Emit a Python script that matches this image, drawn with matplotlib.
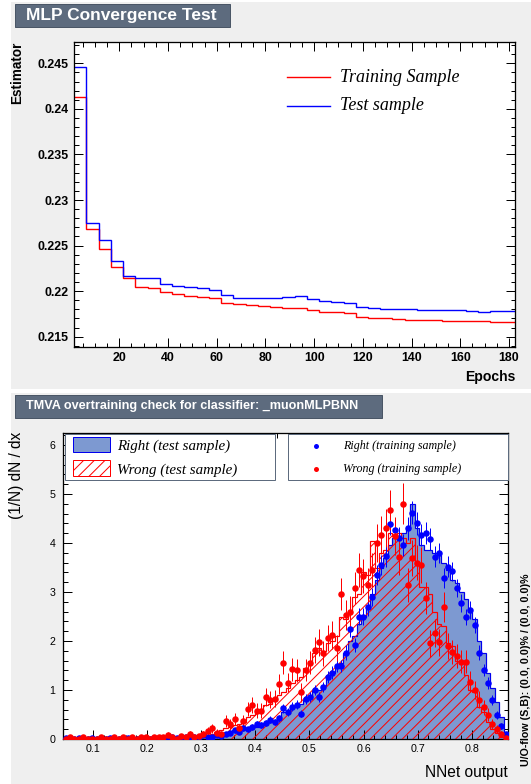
import numpy as np
import matplotlib
matplotlib.use('Agg')
import matplotlib.pyplot as plt
from matplotlib.patches import Rectangle
from matplotlib.lines import Line2D
from matplotlib.ticker import MultipleLocator, FuncFormatter

DPI = 64
W, H = 531, 784
def P(px):
    return px * 72.0 / DPI

# ---------------- data: convergence test ----------------
epoch_range = (1.4, 182.5)
train_estimator = [0.2413, 0.2268, 0.2246, 0.2227, 0.2214, 0.2205, 0.2203, 0.2199, 0.2197, 0.2195,
                   0.2194, 0.2192, 0.2187, 0.2186, 0.2185, 0.2184, 0.2183, 0.2182, 0.2181, 0.2179,
                   0.2177, 0.2177, 0.2176, 0.2172, 0.2171, 0.2170, 0.2169, 0.2168, 0.2168, 0.2168,
                   0.2167, 0.2167, 0.2167, 0.2167, 0.2166, 0.2166]
test_estimator = [0.2446, 0.2275, 0.2256, 0.2233, 0.2217, 0.2214, 0.2214, 0.2208, 0.2206, 0.2205,
                  0.2203, 0.2201, 0.2196, 0.2193, 0.2193, 0.2192, 0.2192, 0.2194, 0.2195, 0.2191,
                  0.2189, 0.2188, 0.2187, 0.2183, 0.2182, 0.2180, 0.2180, 0.2180, 0.2179, 0.2179,
                  0.2179, 0.2179, 0.2178, 0.2177, 0.2178, 0.2178]

# ---------------- data: overtraining check (100 bins) ----------------
nnet_range = (0.045, 0.867)
right_test = [0.00, 0.00, 0.03, 0.00, 0.00, 0.03, 0.00, 0.00, 0.03, 0.00,
              0.00, 0.03, 0.00, 0.03, 0.00, 0.00, 0.03, 0.00, 0.03, 0.03,
              0.00, 0.03, 0.03, 0.00, 0.03, 0.03, 0.05, 0.03, 0.05, 0.05,
              0.06, 0.08, 0.06, 0.08, 0.10, 0.08, 0.12, 0.14, 0.18, 0.16,
              0.20, 0.22, 0.26, 0.25, 0.30, 0.33, 0.38, 0.36, 0.45, 0.55,
              0.58, 0.65, 0.70, 0.72, 0.80, 0.86, 0.98, 1.00, 1.08, 1.22,
              1.35, 1.48, 1.55, 1.75, 2.00, 2.10, 2.35, 2.50, 2.70, 2.95,
              3.25, 3.50, 3.70, 3.95, 4.10, 4.10, 4.20, 4.30, 4.80, 4.30,
              3.95, 3.85, 3.85, 3.80, 3.75, 3.60, 3.45, 3.25, 3.18, 3.00,
              2.85, 2.60, 2.45, 2.00, 1.75, 1.35, 1.05, 0.75, 0.45, 0.15]
wrong_test = [0.00, 0.04, 0.00, 0.00, 0.00, 0.04, 0.00, 0.00, 0.00, 0.04,
              0.00, 0.00, 0.04, 0.00, 0.04, 0.00, 0.04, 0.04, 0.00, 0.04,
              0.04, 0.00, 0.04, 0.08, 0.04, 0.04, 0.08, 0.04, 0.08, 0.06,
              0.06, 0.08, 0.12, 0.10, 0.15, 0.18, 0.22, 0.25, 0.28, 0.30,
              0.35, 0.45, 0.50, 0.55, 0.60, 0.70, 0.72, 0.80, 0.90, 0.95,
              1.05, 1.15, 1.20, 1.27, 1.45, 1.60, 1.75, 1.85, 1.80, 1.95,
              2.00, 2.10, 2.50, 2.45, 2.60, 2.90, 2.95, 3.40, 3.35, 4.05,
              3.50, 3.80, 3.85, 4.20, 4.15, 4.20, 4.10, 4.00, 4.10, 3.55,
              3.10, 3.10, 2.95, 2.60, 2.35, 2.30, 1.95, 1.90, 1.60, 1.55,
              1.30, 1.00, 0.95, 0.65, 0.55, 0.35, 0.20, 0.12, 0.05, 0.02]
right_train = [0.03, 0.00, 0.00, 0.03, 0.00, 0.00, 0.03, 0.00, 0.00, 0.00,
               0.03, 0.00, 0.00, 0.00, 0.03, 0.00, 0.00, 0.03, 0.03, 0.00,
               0.03, 0.03, 0.00, 0.03, 0.05, 0.03, 0.03, 0.05, 0.03, 0.05,
               0.05, 0.08, 0.05, 0.05, 0.08, 0.07, 0.10, 0.12, 0.18, 0.14,
               0.22, 0.20, 0.25, 0.30, 0.28, 0.33, 0.39, 0.34, 0.42, 0.63,
               0.55, 0.66, 0.70, 0.52, 0.82, 0.86, 1.00, 0.86, 1.06, 1.27,
               1.35, 1.49, 1.49, 1.76, 2.24, 1.92, 2.50, 2.50, 2.69, 2.90,
               3.35, 3.55, 3.73, 4.39, 4.27, 4.10, 3.96, 4.30, 4.62, 4.40,
               4.16, 4.20, 4.08, 3.72, 3.80, 3.29, 3.52, 3.42, 3.08, 2.77,
               2.49, 2.63, 2.33, 1.76, 1.41, 1.14, 0.80, 0.49, 0.27, 0.11]
right_train_err = [0.03, 0.00, 0.00, 0.03, 0.00, 0.00, 0.03, 0.00, 0.00, 0.00,
                   0.03, 0.00, 0.00, 0.00, 0.03, 0.00, 0.00, 0.03, 0.03, 0.00,
                   0.03, 0.03, 0.00, 0.03, 0.03, 0.03, 0.03, 0.03, 0.03, 0.03,
                   0.03, 0.03, 0.03, 0.03, 0.03, 0.03, 0.04, 0.04, 0.05, 0.04,
                   0.05, 0.05, 0.06, 0.06, 0.06, 0.06, 0.07, 0.06, 0.07, 0.09,
                   0.08, 0.09, 0.09, 0.08, 0.10, 0.10, 0.11, 0.10, 0.11, 0.12,
                   0.13, 0.13, 0.13, 0.15, 0.16, 0.15, 0.17, 0.17, 0.18, 0.19,
                   0.20, 0.21, 0.21, 0.23, 0.23, 0.22, 0.22, 0.23, 0.24, 0.23,
                   0.22, 0.23, 0.22, 0.21, 0.21, 0.20, 0.21, 0.20, 0.19, 0.18,
                   0.17, 0.18, 0.17, 0.15, 0.13, 0.12, 0.10, 0.08, 0.06, 0.04]
wrong_train = [0.00, 0.04, 0.00, 0.00, 0.04, 0.00, 0.00, 0.00, 0.04, 0.00,
               0.00, 0.04, 0.00, 0.04, 0.00, 0.04, 0.00, 0.04, 0.04, 0.00,
               0.04, 0.04, 0.04, 0.08, 0.04, 0.00, 0.06, 0.04, 0.10, 0.04,
               0.06, 0.10, 0.17, 0.22, 0.13, 0.10, 0.37, 0.30, 0.41, 0.22,
               0.37, 0.61, 0.69, 0.58, 0.58, 0.86, 0.80, 0.82, 1.12, 1.56,
               1.15, 1.42, 1.40, 0.95, 1.41, 1.56, 1.82, 1.97, 1.75, 2.06,
               2.12, 1.86, 2.96, 2.53, 2.60, 3.08, 3.45, 3.33, 3.14, 3.45,
               4.00, 4.16, 4.30, 4.67, 4.14, 3.71, 4.80, 3.14, 3.70, 3.60,
               3.55, 2.88, 1.95, 2.16, 1.97, 2.69, 1.90, 1.78, 1.69, 1.58,
               1.58, 1.17, 1.00, 0.80, 0.65, 0.50, 0.30, 0.20, 0.10, 0.03]
wrong_train_err = [0.00, 0.04, 0.00, 0.00, 0.04, 0.00, 0.00, 0.00, 0.04, 0.00,
                   0.00, 0.04, 0.00, 0.04, 0.00, 0.04, 0.00, 0.04, 0.04, 0.00,
                   0.04, 0.04, 0.04, 0.06, 0.04, 0.00, 0.05, 0.04, 0.06, 0.04,
                   0.05, 0.06, 0.08, 0.09, 0.07, 0.06, 0.12, 0.11, 0.13, 0.09,
                   0.12, 0.15, 0.16, 0.15, 0.15, 0.18, 0.17, 0.17, 0.20, 0.24,
                   0.20, 0.23, 0.23, 0.19, 0.23, 0.24, 0.26, 0.27, 0.25, 0.27,
                   0.28, 0.26, 0.33, 0.30, 0.31, 0.33, 0.35, 0.35, 0.34, 0.35,
                   0.38, 0.39, 0.39, 0.41, 0.39, 0.37, 0.42, 0.34, 0.37, 0.36,
                   0.36, 0.32, 0.27, 0.28, 0.27, 0.31, 0.26, 0.25, 0.25, 0.24,
                   0.24, 0.21, 0.19, 0.17, 0.15, 0.13, 0.10, 0.08, 0.06, 0.03]

plt.rcParams['font.family'] = ['Liberation Sans', 'DejaVu Sans']
plt.rcParams['hatch.linewidth'] = P(1.0)

fig = plt.figure(figsize=(W / DPI, H / DPI), dpi=DPI, facecolor='white')

def fx(x):
    return x / W

def fy(y):
    return 1.0 - y / H

def add_rect(x0, y0, x1, y1, **kw):
    r = Rectangle((fx(x0), fy(y1)), (x1 - x0) / W, (y1 - y0) / H,
                  transform=fig.transFigure, **kw)
    fig.add_artist(r)
    return r

PAD = '#efefef'
TITLE = '#5d6b7e'
add_rect(11, 2, 531, 389, facecolor=PAD, edgecolor='none', zorder=-10)
add_rect(11, 393, 531, 784, facecolor=PAD, edgecolor='none', zorder=-10)

# title boxes
add_rect(15, 4, 230, 27, facecolor=TITLE, edgecolor='#4a5666', lw=P(1), zorder=5)
fig.text(fx(26), fy(15.5), 'MLP Convergence Test', color='white', fontsize=P(17.4),
         fontweight='bold', ha='left', va='center', zorder=6)
add_rect(15, 395, 382, 418, facecolor=TITLE, edgecolor='#4a5666', lw=P(1), zorder=5)
fig.text(fx(26), fy(406.5), 'TMVA overtraining check for classifier: _muonMLPBNN', color='white',
         fontsize=P(12.6), fontweight='bold', ha='left', va='center', zorder=6)

# ---------------- top panel ----------------
ax1 = fig.add_axes([fx(74), fy(347), 441 / W, 305 / H])
ax1.set_facecolor('white')
edges1 = np.linspace(epoch_range[0], epoch_range[1], len(train_estimator) + 1)
ax1.stairs(train_estimator, edges1, color='#ff0000', lw=P(1.4), baseline=None)
ax1.stairs(test_estimator, edges1, color='#0000ff', lw=P(1.4), baseline=None)
ax1.set_xlim(*epoch_range)
ax1.set_ylim(0.21387, 0.24734)
ax1.xaxis.set_major_locator(MultipleLocator(20))
ax1.xaxis.set_minor_locator(MultipleLocator(5))
ax1.yaxis.set_major_locator(MultipleLocator(0.005))
ax1.yaxis.set_minor_locator(MultipleLocator(0.001))
ax1.yaxis.set_major_formatter(FuncFormatter(lambda v, p: f'{round(v, 4):g}'))
ax1.xaxis.set_major_formatter(FuncFormatter(lambda v, p: f'{v:g}'))
ax1.tick_params(which='both', direction='in', top=True, right=True, width=P(1), color='black')
ax1.tick_params(which='major', length=P(9), labelsize=P(12.4), pad=P(5))
ax1.tick_params(which='minor', length=P(4.5))
for lbl in ax1.get_xticklabels() + ax1.get_yticklabels():
    lbl.set_fontweight('bold')
for s in ax1.spines.values():
    s.set_linewidth(P(1.3))
fig.text(fx(515), fy(377), 'Epochs', fontsize=P(14), fontweight='bold', ha='right', va='center')
fig.text(fx(17.5), fy(42), 'Estimator', fontsize=P(13.5), fontweight='bold', rotation=90,
         ha='center', va='top')
# legend
fig.add_artist(Line2D([fx(287), fx(330)], [fy(77), fy(77)], color='#ff0000', lw=P(1.4),
                      transform=fig.transFigure))
fig.add_artist(Line2D([fx(287), fx(330)], [fy(106), fy(106)], color='#0000ff', lw=P(1.4),
                      transform=fig.transFigure))
fig.text(fx(340), fy(77), 'Training Sample', family='Liberation Serif', style='italic',
         fontsize=P(18), ha='left', va='center')
fig.text(fx(340), fy(106), 'Test sample', family='Liberation Serif', style='italic',
         fontsize=P(18), ha='left', va='center')

# ---------------- bottom panel ----------------
ax2 = fig.add_axes([fx(63.3), fy(739), 444.7 / W, 306 / H])
ax2.set_facecolor('white')
edges2 = np.linspace(nnet_range[0], nnet_range[1], len(right_test) + 1)
centers2 = 0.5 * (edges2[:-1] + edges2[1:])
SIG_FILL = '#7d99d1'
ax2.stairs(right_test, edges2, fill=True, facecolor=SIG_FILL, edgecolor='none', zorder=1)
ax2.stairs(right_test, edges2, color='#0000ee', lw=P(1.2), zorder=2)
ax2.stairs(wrong_test, edges2, fill=True, facecolor='none', edgecolor='#ff0000', hatch='//',
           lw=0, zorder=3)
ax2.stairs(wrong_test, edges2, color='#ff0000', lw=P(1.2), zorder=3)
ax2.errorbar(centers2, right_train, yerr=right_train_err, fmt='o', color='#0000ff', ms=P(6.5),
             mew=0, elinewidth=P(1), capsize=P(2.3), capthick=P(1), zorder=4)
ax2.errorbar(centers2, wrong_train, yerr=wrong_train_err, fmt='o', color='#ff0000', ms=P(6.5),
             mew=0, elinewidth=P(1), capsize=P(2.3), capthick=P(1), zorder=4)
ax2.set_xlim(*nnet_range)
ax2.set_ylim(0, 6.245)
ax2.xaxis.set_major_locator(MultipleLocator(0.1))
ax2.xaxis.set_minor_locator(MultipleLocator(0.02))
ax2.yaxis.set_major_locator(MultipleLocator(1))
ax2.yaxis.set_minor_locator(MultipleLocator(0.2))
ax2.xaxis.set_major_formatter(FuncFormatter(lambda v, p: f'{round(v, 3):g}'))
ax2.yaxis.set_major_formatter(FuncFormatter(lambda v, p: f'{v:g}'))
ax2.tick_params(which='both', direction='in', top=True, right=True, width=P(1), color='black')
ax2.tick_params(which='major', length=P(9), labelsize=P(10.6), pad=P(5))
ax2.tick_params(axis='y', which='major', pad=P(8))
ax2.tick_params(which='minor', length=P(4.5))
for s in ax2.spines.values():
    s.set_linewidth(P(1.3))
fig.text(fx(508), fy(773), 'NNet output', fontsize=P(15.5), ha='right', va='center')
fig.text(fx(17), fy(432), '(1/N) dN / dx', fontsize=P(15.5), rotation=90, ha='center', va='top')
fig.text(fx(526), fy(766), 'U/O-flow (S,B): (0.0, 0.0)% / (0.0, 0.0)%', fontsize=P(10.6),
         fontweight='bold', rotation=90, ha='center', va='bottom')

# legends
LEG_EDGE = '#5d6b7e'
add_rect(65, 434, 275, 480, facecolor='white', edgecolor=LEG_EDGE, lw=P(1), zorder=7)
add_rect(288, 434, 508, 480, facecolor='white', edgecolor=LEG_EDGE, lw=P(1), zorder=7)
add_rect(73, 437, 110, 452, facecolor=SIG_FILL, edgecolor='#0000ee', lw=P(1), zorder=8)
add_rect(73, 460, 110, 476, facecolor='white', edgecolor='#ff0000', hatch='//', lw=P(1), zorder=8)
fig.text(fx(117), fy(446), 'Right (test sample)', family='Liberation Serif', style='italic',
         fontsize=P(15), ha='left', va='center', zorder=9)
fig.text(fx(117), fy(470), 'Wrong (test sample)', family='Liberation Serif', style='italic',
         fontsize=P(15), ha='left', va='center', zorder=9)
fig.add_artist(Line2D([fx(316)], [fy(446)], marker='o', color='#0000ff', ms=P(5), mew=0,
                      transform=fig.transFigure, zorder=9))
fig.add_artist(Line2D([fx(316)], [fy(469)], marker='o', color='#ff0000', ms=P(5), mew=0,
                      transform=fig.transFigure, zorder=9))
fig.text(fx(343), fy(446), 'Right (training sample)', family='Liberation Serif', style='italic',
         fontsize=P(12), ha='left', va='center', zorder=9)
fig.text(fx(343), fy(469), 'Wrong (training sample)', family='Liberation Serif', style='italic',
         fontsize=P(12), ha='left', va='center', zorder=9)

fig.savefig('out.png', dpi=DPI, facecolor='white')
